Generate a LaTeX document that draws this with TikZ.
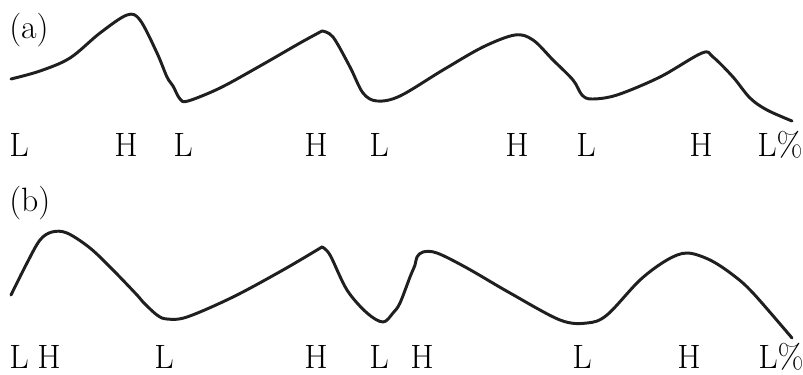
\documentclass[tikz,border=0pt]{standalone}
\usepackage{tikz}
\usetikzlibrary{positioning}

\begin{document}
\begin{tikzpicture}[
    x=0.025cm, y=-0.025cm,
    tone/.style={anchor=base, inner sep=0pt, font=\fontsize{24}{28}\selectfont},
    panel/.style={anchor=base west, inner sep=0pt, font=\fontsize{24}{28}\selectfont},
    contour/.style={line width=2.1pt, color=black!88, line join=round, line cap=round}
]
    \useasboundingbox (0,0) rectangle (803,375);

    % Panel labels
    \node[panel] (pa) at (9,38) {(a)};
    \node[panel] (pb) at (9,211) {(b)};

    % Tones (a)
    \node[tone] (a1) at (19,156) {L};
    \node[tone] (a2) at (126,156) {H};
    \node[tone] (a3) at (183,156) {L};
    \node[tone] (a4) at (316,156) {H};
    \node[tone] (a5) at (379,156) {L};
    \node[tone] (a6) at (517,156) {H};
    \node[tone] (a7) at (586,156) {L};
    \node[tone] (a8) at (701,156) {H};
    \node[tone] (a9) at (780,156) {L\%};

    % Tones (b)
    \node[tone] (b1) at (19,368) {L};
    \node[tone] (b2) at (49,368) {H};
    \node[tone] (b3) at (164,368) {L};
    \node[tone] (b4) at (316,368) {H};
    \node[tone] (b5) at (379,368) {L};
    \node[tone] (b6) at (422,368) {H};
    \node[tone] (b7) at (582,368) {L};
    \node[tone] (b8) at (689,368) {H};
    \node[tone] (b9) at (781,368) {L\%};

    % Contour (a)
    \draw[contour] plot[smooth, tension=0.55] coordinates {
        (11,79) (40,71) (70,58) (100,33) (127,15) (140,20) (157,53)
        (167,77) (173,86) (180,99) (188,101) (220,88) (260,66) (300,43)
        (322,31)}
      -- plot[smooth, tension=0.55] coordinates {
        (322,31) (333,37) (350,67) (363,93) (377,101) (400,96) (443,70)
        (483,47) (515,35) (533,40) (553,60) (573,80) (582,95) (592,99)
        (617,95) (660,77) (702,53) (713,57) (733,77) (750,98) (767,110)
        (792,121)};

    % Contour (b)
    \draw[contour] plot[smooth, tension=0.55] coordinates {
        (11,295) (27,263) (40,240) (52,232) (67,233) (90,248) (113,270)
        (137,295) (143,302) (157,315) (167,319) (187,317) (233,297)
        (283,270) (322,247)}
      -- plot[smooth, tension=0.55] coordinates {
        (322,247) (330,255) (347,290) (367,313) (383,322) (393,313)
        (400,303) (410,277) (415,265) (417,257) (423,252) (437,253)
        (467,268) (510,293) (560,320) (587,323) (607,315) (640,280)
        (667,260) (687,253) (710,260) (733,275) (753,293) (792,338)};
\end{tikzpicture}
\end{document}
